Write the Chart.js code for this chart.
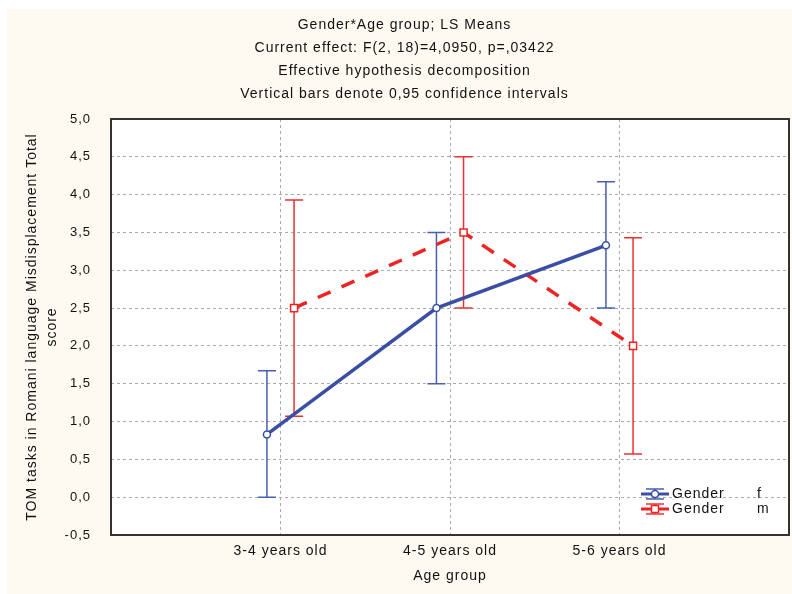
<!DOCTYPE html>
<html lang="en">
<head>
<meta charset="UTF-8">
<title>Gender*Age group; LS Means</title>
<script src="https://cdn.jsdelivr.net/npm/chart.js"></script>
<style>
  html, body { margin: 0; padding: 0; background: #ffffff; }
  #wrap { width: 792px; height: 594px; }
</style>
</head>
<body>
<div id="wrap"><canvas id="lsChart" width="792" height="594"></canvas></div>
<script>
// values
const ageGroups = ['3-4 years old', '4-5 years old', '5-6 years old'];
const femaleMeans = [0.83, 2.5, 3.33];
const femaleLower = [0.0, 1.5, 2.5];
const femaleUpper = [1.67, 3.5, 4.17];
const maleMeans = [2.5, 3.5, 2.0];
const maleLower = [1.07, 2.5, 0.57];
const maleUpper = [3.93, 4.5, 3.43];
const yTicks = [-0.5, 0, 0.5, 1, 1.5, 2, 2.5, 3, 3.5, 4, 4.5, 5];
const titleLines = [
    'Gender*Age group; LS Means',
    'Current effect: F(2, 18)=4,0950, p=,03422',
    'Effective hypothesis decomposition',
    'Vertical bars denote 0,95 confidence intervals'
];

const shift = 0.08; // groups drawn a little left/right of the category
const blue = '#3a4ea3';
const red = '#ee2424';

function points(means, dx) {
    return means.map((v, i) => ({ x: i + 1 + dx, y: v }));
}

const backdrop = {
    id: 'backdrop',
    beforeDraw(chart) {
        const { ctx, chartArea: a } = chart;
        ctx.save();
        ctx.fillStyle = '#fefaf1';
        ctx.fillRect(7, 9, chart.width - 7, chart.height - 9);
        ctx.fillStyle = '#ffffff';
        ctx.fillRect(a.left, a.top, a.right - a.left, a.bottom - a.top);
        ctx.restore();
        ctx.letterSpacing = '1px';
    }
};

const errorBars = {
    id: 'errorBars',
    beforeDatasetsDraw(chart) {
        const { ctx, scales: { x, y } } = chart;
        chart.data.datasets.forEach(ds => {
            ctx.save();
            ctx.strokeStyle = ds.barColor;
            ctx.lineWidth = 1.5;
            ds.data.forEach((p, i) => {
                const px = x.getPixelForValue(p.x);
                const top = y.getPixelForValue(ds.upper[i]);
                const bot = y.getPixelForValue(ds.lower[i]);
                ctx.beginPath();
                ctx.moveTo(px, top); ctx.lineTo(px, bot);
                ctx.moveTo(px - 9, top); ctx.lineTo(px + 9, top);
                ctx.moveTo(px - 9, bot); ctx.lineTo(px + 9, bot);
                ctx.stroke();
            });
            ctx.restore();
        });
    }
};

const frameAndLegend = {
    id: 'frameAndLegend',
    afterDatasetsDraw(chart) {
        const { ctx, chartArea: a } = chart;
        ctx.save();
        ctx.strokeStyle = '#333333';
        ctx.lineWidth = 2;
        ctx.strokeRect(a.left, a.top, a.right - a.left, a.bottom - a.top);

        const rows = [
            { ds: chart.data.datasets[0], y: 494, tag: 'f' },
            { ds: chart.data.datasets[1], y: 509, tag: 'm' }
        ];
        rows.forEach(r => {
            const cx = 655;
            ctx.strokeStyle = r.ds.barColor;
            ctx.lineWidth = 1.5;
            ctx.beginPath();
            ctx.moveTo(cx, r.y - 5); ctx.lineTo(cx, r.y + 5);
            ctx.moveTo(cx - 9, r.y - 5); ctx.lineTo(cx + 9, r.y - 5);
            ctx.moveTo(cx - 9, r.y + 5); ctx.lineTo(cx + 9, r.y + 5);
            ctx.stroke();
            ctx.strokeStyle = r.ds.borderColor;
            ctx.lineWidth = 3;
            ctx.beginPath();
            ctx.moveTo(641, r.y); ctx.lineTo(669, r.y);
            ctx.stroke();
            ctx.fillStyle = '#ffffff';
            ctx.lineWidth = 1.5;
            ctx.beginPath();
            if (r.ds.pointStyle === 'rect') {
                ctx.rect(cx - 3.5, r.y - 3.5, 7, 7);
            } else {
                ctx.arc(cx, r.y, 3.5, 0, Math.PI * 2);
            }
            ctx.fill();
            ctx.stroke();

            ctx.fillStyle = '#111111';
            ctx.font = '14px "Liberation Sans", Arial, sans-serif';
            ctx.textBaseline = 'middle';
            ctx.textAlign = 'left';
            ctx.fillText('Gender', 672, r.y);
            ctx.fillText(r.tag, 757, r.y);
        });
        ctx.restore();
    }
};

Chart.defaults.font.family = '"Liberation Sans", Arial, sans-serif';
Chart.defaults.color = '#111111';

new Chart(document.getElementById('lsChart'), {
    type: 'line',
    data: {
        datasets: [
            {
                label: 'Gender f',
                data: points(femaleMeans, -shift),
                lower: femaleLower,
                upper: femaleUpper,
                barColor: '#4860b0',
                borderColor: blue,
                borderWidth: 3.5,
                pointStyle: 'circle',
                pointRadius: 3.5,
                pointBackgroundColor: '#ffffff',
                pointBorderColor: blue,
                pointBorderWidth: 1.5,
                fill: false,
                tension: 0
            },
            {
                label: 'Gender m',
                data: points(maleMeans, shift),
                lower: maleLower,
                upper: maleUpper,
                barColor: '#ee3030',
                borderColor: red,
                borderWidth: 3.5,
                borderDash: [14, 12],
                pointStyle: 'rect',
                pointRadius: 5,
                pointBackgroundColor: '#ffffff',
                pointBorderColor: red,
                pointBorderWidth: 1.5,
                fill: false,
                tension: 0
            }
        ]
    },
    options: {
        responsive: false,
        animation: false,
        devicePixelRatio: 1,
        layout: { autoPadding: false, padding: { left: 20, right: 3, top: 0, bottom: 0 } },
        plugins: {
            legend: { display: false },
            tooltip: { enabled: false },
            title: {
                display: true,
                text: titleLines,
                font: { size: 14, weight: 'normal', lineHeight: 23 / 14 },
                padding: { top: 13.5, bottom: 13.5 }
            }
        },
        scales: {
            x: {
                type: 'linear',
                min: 0,
                max: 4,
                afterBuildTicks: s => { s.ticks = ageGroups.map((g, i) => ({ value: i + 1 })); },
                afterFit: s => { s.height = 59; s.paddingLeft = 0; s.paddingRight = 0; },
                ticks: {
                    padding: 8,
                    font: { size: 14 },
                    callback: v => ageGroups[v - 1]
                },
                grid: { color: '#aaaaaa', lineWidth: 1, drawTicks: false },
                border: { display: false, dash: [3, 3] },
                title: {
                    display: true,
                    text: 'Age group',
                    font: { size: 14 },
                    padding: { top: 0, bottom: 9 }
                }
            },
            y: {
                min: -0.5,
                max: 5,
                afterBuildTicks: s => { s.ticks = yTicks.map(v => ({ value: v })); },
                afterFit: s => { s.width = 91; },
                ticks: {
                    padding: 20,
                    font: { size: 13 },
                    callback: v => v.toFixed(1).replace('.', ',')
                },
                grid: { color: '#aaaaaa', lineWidth: 1, drawTicks: false },
                border: { display: false, dash: [3, 3] },
                title: {
                    display: true,
                    text: ['TOM tasks in Romani language Misdisplacement Total', 'score'],
                    font: { size: 14, lineHeight: 20 / 14 },
                    padding: { top: 2, bottom: 0 }
                }
            }
        }
    },
    plugins: [backdrop, errorBars, frameAndLegend]
});
</script>
</body>
</html>
